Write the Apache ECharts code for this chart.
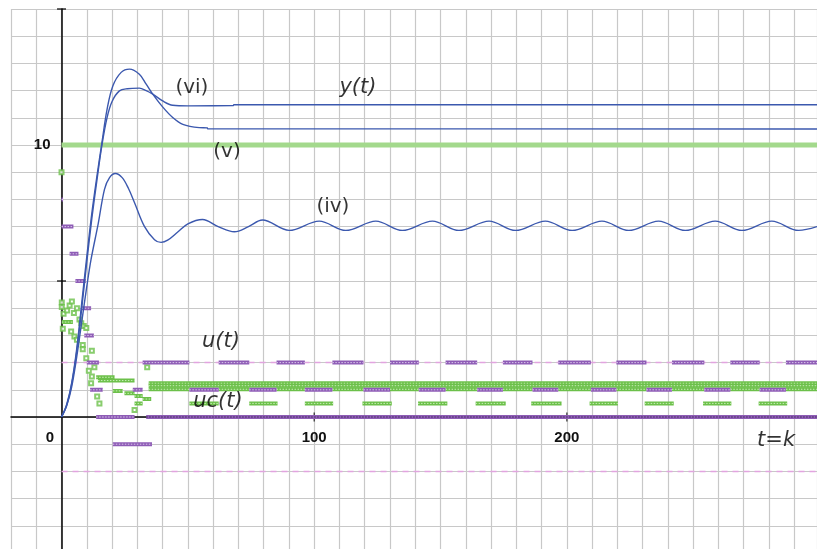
<!DOCTYPE html>
<html>
<head>
<meta charset="utf-8">
<script src="https://cdn.jsdelivr.net/npm/echarts@6/dist/echarts.min.js"></script>
<style>
html,body{margin:0;padding:0;background:#fff;}
#c{width:817px;height:549px;}
</style>
</head>
<body>
<div id="c"></div>
<script>
// ---------- data ----------
const xLabelValues = [0, 100, 200];
const yLabelValues = [10];
const refLevel = 10;            // green reference line
const refSpan = [0, 299];
const uLimits = [2, -2];        // pink dashed limits

// blue output curves y(t)  [k, y]
const yIV = [[0,0],[2,0.4],[4,1.1],[6,2.2],[8,3.5],[10,4.8],[11.7,5.8],[14.5,7.1],[17,8.37],[19,8.8],[21.3,8.95],[24,8.8],[26.5,8.4],[28.9,7.88],[32.8,7.01],[36.8,6.52],[39.4,6.42],[42,6.5],[46,6.8],[50,7.1],[55.8,7.26],[62,7.0],[68.4,6.81],[74,7.0],[79.5,7.24],[90.1,6.86],[102,7.2],[112.5,6.86],[124.4,7.2],[134.9,6.86],[146.8,7.2],[157.3,6.86],[169.2,7.2],[179.7,6.86],[191.5,7.2],[202.1,6.86],[213.9,7.2],[224.5,6.86],[236.3,7.2],[246.9,6.86],[258.7,7.2],[269.3,6.86],[281.1,7.2],[291.7,6.86],[299,7.0]];
const yV = [[0,0],[2,0.45],[4,1.25],[6,2.5],[8,4.2],[10,5.9],[12,7.5],[14,8.85],[16,10.1],[18,11.3],[20.3,12.17],[23.6,12.67],[26.9,12.79],[30.8,12.6],[33.5,12.24],[36.1,11.87],[40,11.4],[44,11.01],[48,10.76],[54.5,10.64],[57.7,10.63],[57.8,10.6],[299,10.59]];
const yVI = [[0,0],[2,0.42],[4,1.2],[6,2.4],[8,4.0],[10,5.7],[12,7.3],[14,8.7],[16,10.0],[18,11.0],[20,11.6],[22.9,11.99],[26,12.07],[30.8,12.09],[33.5,12.0],[36.1,11.87],[40,11.62],[44,11.46],[50,11.44],[68,11.45],[68.2,11.48],[299,11.48]];

// purple u(t) marker runs  [kStart, kEnd, u]
const uTransient = [[0,0.6,8],[0,4.7,7],[3.2,6.7,6],[5.5,9.6,5],[8,11.7,4],[9,12.8,3],[10,14.8,2],[11.3,16.3,1],[28.2,32.1,1],[13.7,28.9,0],[20.3,35.8,-1]];
const uHighRuns = [[32.1,50.6],[62.2,74.3],[85.1,96.3],[107.2,119.5],[130,141.4],[152,164.5],[174.7,186.4],[196.6,209.5],[219.6,231.5],[241.6,254.4],[264.7,276.3],[286.7,299]];
const uHighValue = 2;
const uLowRuns = [[50.6,62.2],[74.3,85.1],[96.3,107.2],[119.5,130],[141.4,152],[164.5,174.7],[186.4,196.6],[209.5,219.6],[231.5,241.6],[254.4,264.7],[276.3,286.7]];
const uLowValue = 1;
const uZeroRuns = [[33.5,299]];
const uZeroValue = 0;

// green uc(t) marker runs
const ucTransient = [[0.1,4.5,3.49],[13.7,21,1.46],[14.4,28.9,1.34],[20.3,24.2,0.96],[24.9,28.9,0.87],[28.9,32.1,0.77],[32.1,35.5,0.66],[28.9,32.1,0.5]];
const ucSteadyRuns = [[34.5,299]];
const ucSteadyValues = [1.24, 1.15];
const ucHighRuns = [[34.5,50.6],[62.2,74.3],[85.1,96.3],[107.2,119.5],[130,141.4],[152,164.5],[174.7,186.4],[196.6,209.5],[219.6,231.5],[241.6,254.4],[264.7,276.3],[286.7,299]];
const ucHighValue = 1.02;
const ucLowRuns = [[50.6,62.2],[74.3,85.5],[96.3,107.5],[119.1,130.7],[141.1,152.7],[163.9,175.8],[185.9,197.9],[209,220.2],[230.8,242.3],[253.9,265.1],[275.9,287.2]];
const ucLowValue = 0.5;
const ucPoints = [[0,9],[0.1,4.21],[0.1,4.04],[0.8,3.8],[2.2,3.92],[3.2,4.1],[4.1,4.25],[4.9,3.82],[6.1,4.0],[0.5,3.24],[3.8,3.14],[5.1,2.96],[6.1,2.84],[7.1,3.58],[7.8,3.45],[8.8,3.35],[9.8,3.27],[8.4,2.65],[8.4,2.49],[12,2.44],[9.8,2.16],[13,1.83],[10.8,1.7],[12,1.49],[11.7,1.24],[14.1,0.75],[15,0.5],[28.9,0.26],[33.9,1.83]];

// axis tick marks
const xTickMarks = [100, 200];
const yTickMarks = [5, 15];

// text annotations [k, y]
const notes = [
  {name:'(vi)', value:[51.6,12.1], italic:false},
  {name:'y(t)', value:[117.3,12.1], italic:true},
  {name:'(v)', value:[65.5,9.75], italic:false},
  {name:'(iv)', value:[107.4,7.73], italic:false},
  {name:'u(t)', value:[63.1,2.76], italic:true},
  {name:'uc(t)', value:[61.9,0.55], italic:true},
  {name:'t=k', value:[282.8,-0.85], italic:true}
];

// ---------- build ----------
function runs(list, y){ const d=[]; list.forEach(r=>{ d.push([r[0],y],[r[1],y],[r[1],'-']); }); return d; }
function runs3(list){ const d=[]; list.forEach(r=>{ d.push([r[0],r[2]],[r[1],r[2]],[r[1],'-']); }); return d; }

function band(data, color, inner, width){
  return [
    {type:'line', data:data, symbol:'none', silent:true, connectNulls:false,
     lineStyle:{color:color, width:width||4, cap:'butt'}},
    {type:'line', data:data, symbol:'none', silent:true, connectNulls:false,
     lineStyle:{color:inner, width:1, type:[1.5,1.5], cap:'butt'}}
  ];
}
const PURPLE='#8e5cb6', PURPLE_IN='#d9c6ea', GREEN='#6cc04a', GREEN_IN='#c9eeb8';
const BLUE='#3b58ae';

const series = [];
uLimits.forEach(v=>{
  series.push({type:'line', data:[[refSpan[0],v],[refSpan[1],v]], symbol:'none', silent:true,
    lineStyle:{color:'#e2a4e0', width:1.5, type:[6,5]}});
});
series.push({type:'line', data:[[refSpan[0],refLevel],[refSpan[1],refLevel]], symbol:'none', silent:true,
  lineStyle:{color:'#a3d98c', width:4.8}});

ucSteadyValues.forEach(v=>{ series.push(...band(runs(ucSteadyRuns, v), GREEN, GREEN_IN, 4)); });
series.push(...band(runs(ucHighRuns, ucHighValue), GREEN, GREEN_IN, 4));
series.push(...band(runs(ucLowRuns, ucLowValue), GREEN, GREEN_IN, 4));
series.push(...band(runs3(ucTransient), GREEN, GREEN_IN, 4));
series.push(...band(runs(uLowRuns, uLowValue), PURPLE, PURPLE_IN, 4));
series.push(...band(runs(uHighRuns, uHighValue), PURPLE, PURPLE_IN, 4));
series.push(...band(runs(uZeroRuns, uZeroValue), PURPLE, '#3a2a50', 4));
series.push(...band(runs3(uTransient), PURPLE, PURPLE_IN, 4));
series.push({type:'scatter', data:ucPoints, symbol:'emptyRect', symbolSize:4, silent:true,
  itemStyle:{color:GREEN, borderColor:GREEN, borderWidth:1.3}});

[yIV, yV, yVI].forEach(d=>{
  series.push({type:'line', data:d, symbol:'none', smooth:0.35, silent:true,
    lineStyle:{color:BLUE, width:1.4}});
});

series.push({type:'scatter', silent:true, data:xTickMarks.map(v=>[v,0]), symbol:'rect', symbolSize:[1.2,9],
  itemStyle:{color:'#000'}});
series.push({type:'scatter', silent:true, data:yTickMarks.map(v=>[0,v]), symbol:'rect', symbolSize:[9,1.5],
  itemStyle:{color:'#000'}});

series.push({type:'scatter', silent:true, symbolSize:0, z:20, zlevel:1,
  data:notes.map(n=>({name:n.name, value:n.value, label:{fontStyle:n.italic?'italic':'normal', fontSize:n.italic?21:20}})),
  label:{show:true, position:'inside', formatter:p=>p.name, color:'#000', fontFamily:'DejaVu Sans', fontSize:20}
});

// layout: grid frame and where the zero lines sit inside it
const GRID = {left:11, top:9, width:806, height:544};
const X_MIN=-20, X_MAX=299, Y_MIN=-5, Y_MAX=15;
const zeroFromLeft = GRID.width * (0 - X_MIN) / (X_MAX - X_MIN);
const zeroFromBottom = GRID.height * (0 - Y_MIN) / (Y_MAX - Y_MIN);

const chart = echarts.init(document.getElementById('c'), null, {renderer:'canvas'});
chart.setOption({
  animation:false,
  backgroundColor:'#fff',
  grid:Object.assign({outerBoundsMode:'none', containLabel:false}, GRID),
  xAxis:{type:'value', min:X_MIN, max:X_MAX, interval:10, position:'bottom', offset:-zeroFromBottom,
    axisLine:{onZero:false, lineStyle:{color:'#000', width:1.5}},
    axisTick:{show:false},
    splitLine:{show:true, lineStyle:{color:'#c8c8c8', width:1.2}},
    axisLabel:{margin:13, color:'#111', fontFamily:'Liberation Sans', fontSize:15, fontWeight:'bold',
      showMinLabel:true, showMaxLabel:false, hideOverlap:false,
      formatter:v=> xLabelValues.indexOf(v)<0 ? '' : (v===0 ? '{z|0}' : String(v)),
      rich:{z:{padding:[0,23,0,0], fontSize:15, fontWeight:'bold', color:'#111', fontFamily:'Liberation Sans'}}}
  },
  yAxis:{type:'value', min:Y_MIN, max:Y_MAX, interval:1, position:'left', offset:-zeroFromLeft,
    axisLine:{onZero:false, lineStyle:{color:'#000', width:1.5}},
    axisTick:{show:false},
    splitLine:{show:true, lineStyle:{color:'#c8c8c8', width:1.2}},
    axisLabel:{margin:11, color:'#111', fontFamily:'Liberation Sans', fontSize:15, fontWeight:'bold',
      formatter:v=> yLabelValues.indexOf(v)<0 ? '' : String(v)}
  },
  series:series
});
</script>
</body>
</html>
